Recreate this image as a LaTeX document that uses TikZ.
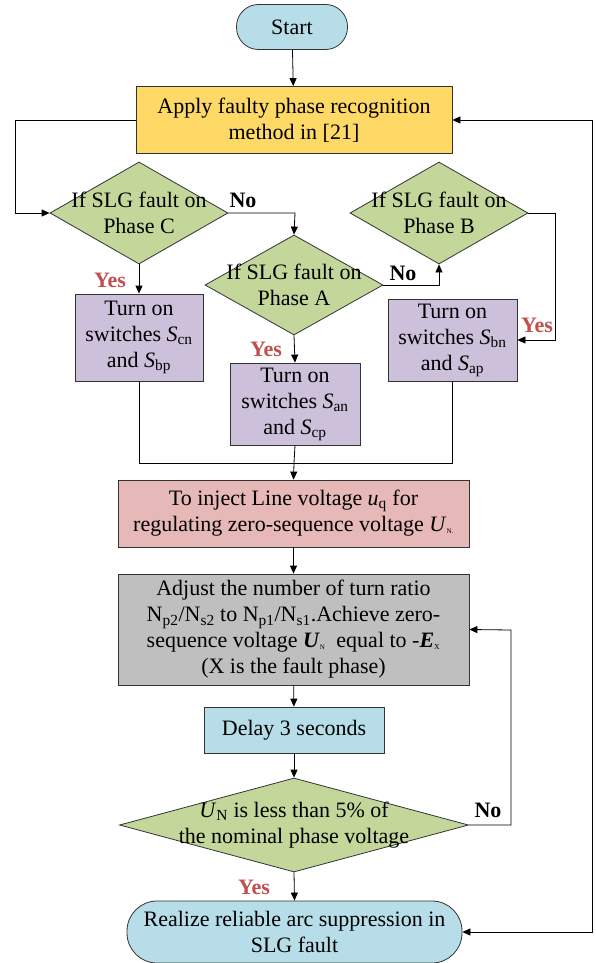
\documentclass[tikz,border=0pt]{standalone}
\usepackage{fontspec}
\setmainfont{Liberation Serif}
\usetikzlibrary{arrows.meta,shapes.geometric}
\definecolor{cblue}{HTML}{B7DDE8}
\definecolor{cgold}{HTML}{FFD966}
\definecolor{cgreen}{HTML}{C4D79B}
\definecolor{cpurple}{HTML}{CCC0DA}
\definecolor{cpink}{HTML}{E6B8B7}
\definecolor{cgray}{HTML}{BFBFBF}
\definecolor{cred}{HTML}{C0504D}
\begin{document}
\begin{tikzpicture}[x=1pt,y=-1pt,
  every node/.style={font=\fontsize{22}{26}\selectfont},
  base/.style={draw=black!80,line width=0.8pt,align=center,inner sep=0pt},
  term/.style={base,fill=cblue,rounded corners=22pt},
  proc/.style={base,rectangle},
  dec/.style={draw=black!80,line width=0.8pt,diamond,fill=cgreen,inner sep=0pt},
  dtext/.style={align=center,inner sep=0pt},
  conn/.style={line width=0.8pt,-{Triangle[length=8pt,width=7pt]}},
  line/.style={line width=0.8pt},
  yes/.style={text=cred,font=\fontsize{22}{26}\selectfont\bfseries},
  no/.style={text=black,font=\fontsize{22}{26}\selectfont\bfseries}]
\useasboundingbox (0,0) rectangle (596,963);
% nodes
\node[term,minimum width=111,minimum height=45] (start) at (292,27) {Start};
\node[proc,fill=cgold,minimum width=316,minimum height=67] (apply) at (294,120) {Apply faulty phase recognition\\method in [21]};
\node[dec,minimum width=178,minimum height=102] (dc) at (139,213) {};
\node[dtext] (tc) at (139,213) {If SLG fault on\\Phase C};
\node[dec,minimum width=178,minimum height=100] (da) at (294,285) {};
\node[dtext] (ta) at (294,285) {If SLG fault on\\Phase A};
\node[dec,minimum width=178,minimum height=102] (db) at (439,213) {};
\node[dtext] (tb) at (439,213) {If SLG fault on\\Phase B};
\node[proc,fill=cpurple,minimum width=128,minimum height=87] (cn) at (139,337.5) {Turn on\\switches \textit{S}\textsubscript{cn}\\and \textit{S}\textsubscript{bp}};
\node[proc,fill=cpurple,minimum width=130,minimum height=82] (an) at (295,404) {Turn on\\switches \textit{S}\textsubscript{an}\\and \textit{S}\textsubscript{cp}};
\node[proc,fill=cpurple,minimum width=129,minimum height=82] (bn) at (452.5,340) {Turn on\\switches \textit{S}\textsubscript{bn}\\and \textit{S}\textsubscript{ap}};
\node[proc,fill=cpink,minimum width=351,minimum height=67] (inj) at (293.5,513.5) {To inject Line voltage \textit{u}\textsubscript{q} for\\regulating zero-sequence voltage \textit{U}{\fontsize{10}{10}\selectfont\textsubscript{N.}}};
\node[proc,fill=cgray,minimum width=351,minimum height=111] (adj) at (293.5,629.5) {Adjust the number of turn ratio\\N\textsubscript{p2}/N\textsubscript{s2} to N\textsubscript{p1}/N\textsubscript{s1}.Achieve zero-\\sequence voltage \textbf{\textit{U}}{\fontsize{10}{10}\selectfont\textsubscript{N}}\ \ equal to -\textbf{\textit{E}}{\fontsize{11}{11}\selectfont\textsubscript{X}}\\(X is the fault phase)};
\node[proc,fill=cblue,minimum width=180,minimum height=46] (delay) at (294,730) {Delay 3 seconds};
\node[dec,minimum width=349,minimum height=94] (du) at (294,825) {};
\node[dtext] (tu) at (294,825) {\textit{U}\textsubscript{N} is less than 5\% of\\the nominal phase voltage};
\node[term,rounded corners=30pt,minimum width=335,minimum height=62] (real) at (294.5,932) {Realize reliable arc suppression in\\SLG fault};
% helper coordinates
\coordinate (m1) at (139,463);
\coordinate (m2) at (294,463);
\coordinate (m3) at (452.5,463);
% labels
\node[no] (no1) at (243,200) {No};
\node[no] (no2) at (403,273) {No};
\node[yes] (y1) at (110,280) {Yes};
\node[yes] (y2) at (266,349) {Yes};
\node[yes] (y3) at (537,325) {Yes};
\node[no] (no3) at (488,810) {No};
\node[yes] (y4) at (254,887) {Yes};
% connectors
\draw[conn] (start) -- (apply);
\draw[conn] (apply.west) -- (15,120) -- (15,213) -- (dc.west);
\draw[conn] (dc.east) -- (295,213) -- (da.north);
\draw[conn] (da.east) -- (439,285) -- (db.south);
\draw[conn] (db.east) -- (555,213) -- (555,340) -- (bn.east);
\draw[conn] (dc.south) -- (cn.north);
\draw[conn] (da.south) -- (an.north);
\draw[line] (cn.south) -- (m1) -- (m3) -- (bn.south);
\draw[line] (an.south) -- (m2);
\draw[conn] (m2) -- (inj.north);
\draw[conn] (inj) -- (adj);
\draw[conn] (adj) -- (delay);
\draw[conn] (delay) -- (du.north);
\draw[conn] (du.south) -- (real.north);
\draw[conn] (du.east) -- (511,825) -- (511,630) -- (adj.east);
\draw[line,{Triangle[length=8pt,width=7pt]}-{Triangle[length=8pt,width=7pt]}] (real.east) -- (592,932) -- (592,120) -- (apply.east);
\end{tikzpicture}
\end{document}
